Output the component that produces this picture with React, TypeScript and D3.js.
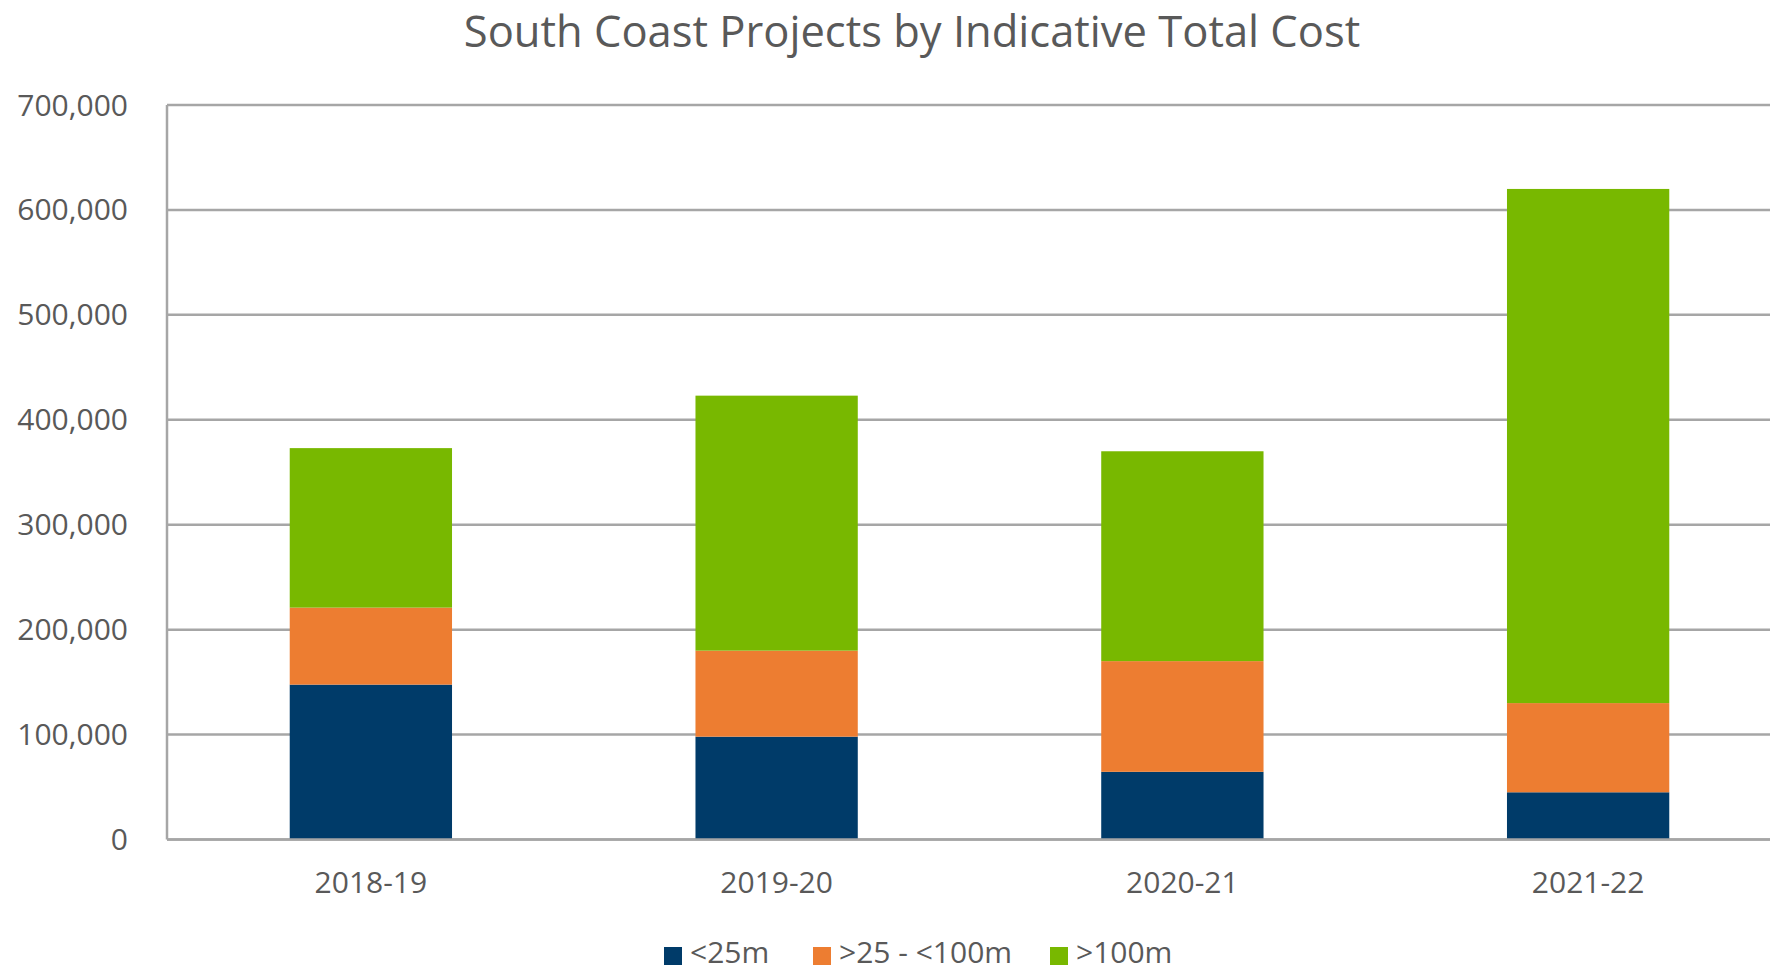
import React from "react";
import * as d3 from "d3";

const title = "South Coast Projects by Indicative Total Cost";
const categories = ["2018-19", "2019-20", "2020-21", "2021-22"];
const seriesNames = ["<25m", ">25 - <100m", ">100m"];
const under25 = [147600, 98000, 64500, 45000];
const from25to100 = [73400, 82000, 105500, 85000];
const over100 = [152000, 243000, 200000, 490000];
const yTicks = [0, 100000, 200000, 300000, 400000, 500000, 600000, 700000];
const colors = ["#003B69", "#ED7D31", "#78B800"];

const W = 1770;
const H = 972;
const plotLeft = 168;
const plotRight = 1791;
const plotTop = 105;
const plotBottom = 839.5;
const textColor = "#595959";
const gridColor = "#A6A6A6";
const font = "'Open Sans', sans-serif";

export default function App() {
  const rows = categories.map((c, i) => ({
    cat: c,
    s0: under25[i],
    s1: from25to100[i],
    s2: over100[i],
  }));
  const stack = d3.stack<any>().keys(["s0", "s1", "s2"]);
  const stacked = stack(rows);

  const x = d3
    .scaleBand<string>()
    .domain(categories)
    .range([plotLeft, plotRight])
    .paddingInner(0.6)
    .paddingOuter(0.3);
  const y = d3.scaleLinear().domain([0, 700000]).range([plotBottom, plotTop]);
  const fmt = d3.format(",");

  const legendX = [664, 813, 1050];

  return (
    <svg
      width={W}
      height={H}
      style={{ position: "absolute", left: 0, top: 0, display: "block", background: "#fff" }}
    >
      <rect x={0} y={0} width={W} height={H} fill="#fff" />
      <text
        x={912}
        y={46.5}
        textAnchor="middle"
        fontFamily={font}
        fontSize={43.5}
        fill={textColor}
      >
        {title}
      </text>
      {yTicks.map((t) => (
        <g key={t}>
          <line
            x1={plotLeft - 1}
            x2={W}
            y1={y(t)}
            y2={y(t)}
            stroke={gridColor}
            strokeWidth={2.5}
          />
          <text
            x={128}
            y={y(t) + 10.5}
            textAnchor="end"
            fontFamily={font}
            fontSize={30}
            fill={textColor}
          >
            {fmt(t)}
          </text>
        </g>
      ))}
      <line
        x1={plotLeft - 1}
        x2={plotLeft - 1}
        y1={plotTop}
        y2={plotBottom}
        stroke={gridColor}
        strokeWidth={2.5}
      />
      {stacked.map((layer, li) => (
        <g key={li} fill={colors[li]}>
          {layer.map((d: any, i: number) => (
            <rect
              key={i}
              x={x(categories[i])}
              width={x.bandwidth()}
              y={y(d[1])}
              height={y(d[0]) - y(d[1])}
            />
          ))}
        </g>
      ))}
      <line
        x1={plotLeft - 1}
        x2={W}
        y1={y(0)}
        y2={y(0)}
        stroke={gridColor}
        strokeWidth={2.5}
      />
      {categories.map((c) => (
        <text
          key={c}
          x={(x(c) as number) + x.bandwidth() / 2}
          y={893}
          textAnchor="middle"
          fontFamily={font}
          fontSize={30}
          fill={textColor}
        >
          {c}
        </text>
      ))}
      {seriesNames.map((n, i) => (
        <g key={n}>
          <rect x={legendX[i]} y={947} width={18} height={18} fill={colors[i]} />
          <text
            x={legendX[i] + 26}
            y={963}
            fontFamily={font}
            fontSize={30}
            fill={textColor}
          >
            {n}
          </text>
        </g>
      ))}
    </svg>
  );
}
